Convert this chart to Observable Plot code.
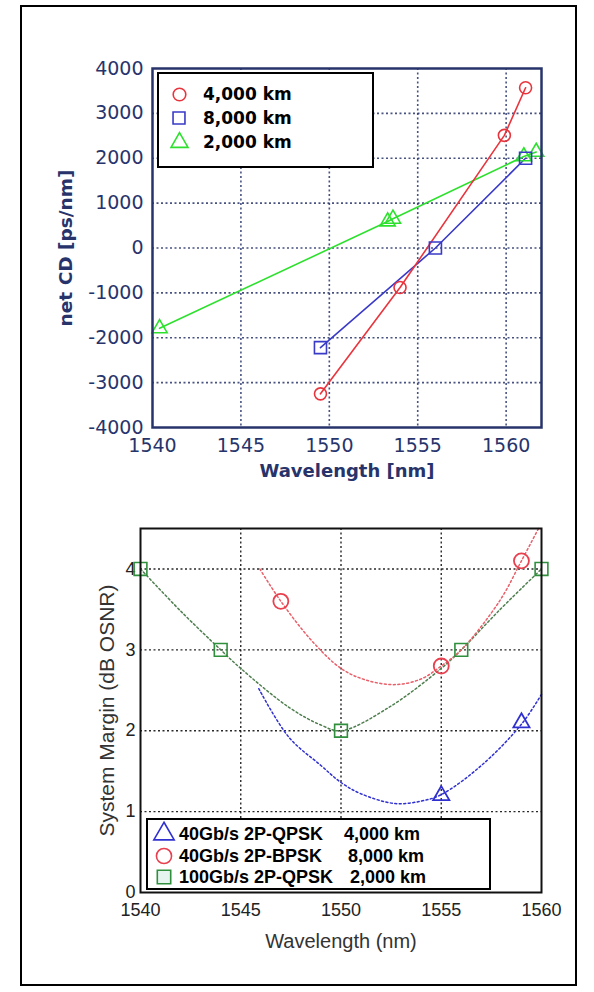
<!DOCTYPE html>
<html><head><meta charset="utf-8">
<script src="https://cdn.jsdelivr.net/npm/d3@7"></script>
<script src="https://cdn.jsdelivr.net/npm/@observablehq/plot@0.6"></script>
<style>
html,body{margin:0;padding:0;background:#fff;}
#wrap{position:relative;width:594px;height:992px;overflow:hidden;background:#fff;}
#border{position:absolute;left:20px;top:5px;width:557px;height:981px;border:2px solid #000;box-sizing:border-box;}
#topChart{position:absolute;left:0;top:0;}
#bottomChart{position:absolute;left:0;top:490px;}
.legend{position:absolute;background:#fff;border:2px solid #000;box-sizing:border-box;}
.legend .row{position:absolute;left:0;right:0;height:22px;}
.legend svg{position:absolute;overflow:visible;}
.legend span{position:absolute;white-space:pre;color:#000;font-weight:bold;line-height:22px;top:0;}
#legTop span{font-family:"DejaVu Sans";font-size:17px;}
#legBot span{font-family:"Liberation Sans",Arial;font-size:18px;}
</style></head><body>
<div id="wrap">
  <div id="border"></div>
  <div id="topChart"></div>
  <div id="bottomChart"></div>
  <div id="legTop" class="legend" style="left:157px;top:72px;width:217px;height:96px;"></div>
  <div id="legBot" class="legend" style="left:146px;top:818px;width:345px;height:72px;"></div>
</div>
<script>
// ---------- Top chart: net CD vs wavelength ----------
const cdSeriesNames = ["4,000 km", "8,000 km", "2,000 km"];
const cdWl4000 = [1549.5, 1554.0, 1559.9, 1561.1];
const cdVal4000 = [-3250, -880, 2510, 3570];
const cdWl8000 = [1549.5, 1556.0, 1561.1];
const cdVal8000 = [-2220, 0, 2000];
const cdWl2000 = [1540.4, 1553.3, 1553.6, 1561.0, 1561.7];
const cdVal2000 = [-1790, 590, 650, 2040, 2140];
const topTicksX = [1540, 1545, 1550, 1555, 1560];
const topTicksY = [-4000, -3000, -2000, -1000, 0, 1000, 2000, 3000, 4000];

// ---------- Bottom chart: system margin vs wavelength ----------
const smSeriesNames = ["40Gb/s 2P-QPSK", "40Gb/s 2P-BPSK", "100Gb/s 2P-QPSK"];
const smSeriesReach = ["4,000 km", "8,000 km", "2,000 km"];
const smWlQpsk40 = [1555, 1559];
const smValQpsk40 = [1.2, 2.1];
const smWlBpsk40 = [1547, 1555, 1559];
const smValBpsk40 = [3.6, 2.8, 4.1];
const smWlQpsk100 = [1540, 1544, 1550, 1556, 1560];
const smValQpsk100 = [4.0, 3.0, 2.0, 3.0, 4.0];
// fitted (dotted) curves
const fitWlQpsk40 = [1545.9, 1547.4, 1549, 1550, 1551, 1552.7, 1554, 1555, 1557, 1559, 1560];
const fitValQpsk40 = [2.52, 1.92, 1.57, 1.36, 1.22, 1.10, 1.13, 1.21, 1.57, 2.08, 2.45];
const fitWlBpsk40 = [1545.95, 1547, 1548.55, 1550, 1551.2, 1552.7, 1554, 1555, 1556, 1557.9, 1559, 1559.85];
const fitValBpsk40 = [4.0, 3.6, 3.11, 2.77, 2.63, 2.57, 2.64, 2.8, 3.0, 3.6, 4.1, 4.5];
const fitWlQpsk100 = [1540, 1542, 1544, 1545, 1547.4, 1549, 1550, 1552.4, 1555, 1556, 1557.9, 1560];
const fitValQpsk100 = [4.0, 3.48, 3.0, 2.77, 2.29, 2.07, 2.0, 2.29, 2.77, 3.0, 3.49, 4.0];
const botTicksX = [1540, 1545, 1550, 1555, 1560];
const botTicksY = [0, 1, 2, 3, 4];

const zip = (xs, ys) => xs.map((x, i) => ({x, y: ys[i]}));

const navy = "#27346b";
const cRed = "#e8353d", cBlue = "#3a3ac8", cGreen = "#2ee02e";

const topPlot = Plot.plot({
  width: 594, height: 490,
  marginLeft: 152, marginRight: 53, marginTop: 68, marginBottom: 63,
  x: {domain: [1540, 1562]},
  y: {domain: [-4000, 4000]},
  style: {fontFamily: "DejaVu Sans", background: "transparent", overflow: "visible"},
  marks: [
    Plot.gridX(topTicksX.slice(1), {stroke: navy, strokeOpacity: 0.85, strokeWidth: 1.6, strokeDasharray: "2,2.5"}),
    Plot.gridY(topTicksY.slice(1, -1), {stroke: navy, strokeOpacity: 0.85, strokeWidth: 1.6, strokeDasharray: "2,2.5"}),
    Plot.axisX(topTicksX, {tickSize: 0, tickPadding: 11, fontSize: 19, fill: navy, label: null, tickFormat: d => String(d)}),
    Plot.axisY(topTicksY, {tickSize: 0, tickPadding: 9, fontSize: 19, fill: navy, label: null, tickFormat: d => String(d)}),
    Plot.line(zip(cdWl2000, cdVal2000), {x: "x", y: "y", stroke: cGreen, strokeWidth: 1.6}),
    Plot.line(zip(cdWl8000, cdVal8000), {x: "x", y: "y", stroke: cBlue, strokeWidth: 1.6}),
    Plot.line(zip(cdWl4000, cdVal4000), {x: "x", y: "y", stroke: cRed, strokeWidth: 1.6}),
    Plot.dot(zip(cdWl2000, cdVal2000), {x: "x", y: "y", symbol: "triangle", r: 5.6, stroke: cGreen, strokeWidth: 1.6, fill: "none"}),
    Plot.dot(zip(cdWl8000, cdVal8000), {x: "x", y: "y", symbol: "square", r: 6.8, stroke: cBlue, strokeWidth: 1.6, fill: "none"}),
    Plot.dot(zip(cdWl4000, cdVal4000), {x: "x", y: "y", symbol: "circle", r: 6, stroke: cRed, strokeWidth: 1.6, fill: "none"}),
    Plot.frame({stroke: navy, strokeWidth: 2.5}),
    Plot.text(["net CD [ps/nm]"], {text: d => d, frameAnchor: "left", dx: -86, rotate: -90, textAnchor: "middle", lineAnchor: "middle", fontSize: 18.5, fontWeight: "bold", fill: navy}),
    Plot.text(["Wavelength [nm]"], {text: d => d, frameAnchor: "bottom", dy: 44, textAnchor: "middle", lineAnchor: "middle", fontSize: 18, fontWeight: "bold", fill: navy})
  ]
});
document.getElementById("topChart").appendChild(topPlot);

const bRedDot = "#e8404f", bRedLine = "#e8606a";
const bGreenDot = "#2f8f3c", bGreenLine = "#4f7f4f";
const bBlue = "#3030d0";

const botPlot = Plot.plot({
  width: 594, height: 502,
  marginLeft: 140, marginRight: 53, marginTop: 38, marginBottom: 100,
  x: {domain: [1540, 1560]},
  y: {domain: [0, 4.5]},
  style: {fontFamily: "Liberation Sans, Arial", background: "transparent", overflow: "visible"},
  marks: [
    Plot.gridX(botTicksX.slice(1, -1), {stroke: "#111", strokeOpacity: 0.9, strokeWidth: 1.4, strokeDasharray: "2,2.5"}),
    Plot.gridY(botTicksY.slice(1), {stroke: "#111", strokeOpacity: 0.9, strokeWidth: 1.4, strokeDasharray: "2,2.5"}),
    Plot.axisX(botTicksX, {tickSize: 0, tickPadding: 11, fontSize: 18, fill: "#222", label: null, tickFormat: d => String(d)}),
    Plot.axisY(botTicksY, {tickSize: 0, tickPadding: 5, fontSize: 18, fill: "#222", label: null, tickFormat: d => String(d)}),
    Plot.line(zip(fitWlQpsk100, fitValQpsk100), {x: "x", y: "y", curve: "catmull-rom", stroke: bGreenLine, strokeWidth: 1.5, strokeDasharray: "2,2.5"}),
    Plot.line(zip(fitWlQpsk40, fitValQpsk40), {x: "x", y: "y", curve: "catmull-rom", stroke: bBlue, strokeWidth: 1.5, strokeDasharray: "2,2.5"}),
    Plot.line(zip(fitWlBpsk40, fitValBpsk40), {x: "x", y: "y", curve: "catmull-rom", stroke: bRedLine, strokeWidth: 1.5, strokeDasharray: "2,2.5"}),
    Plot.dot(zip(smWlQpsk100, smValQpsk100), {x: "x", y: "y", symbol: "square", r: 7.2, stroke: bGreenDot, strokeWidth: 1.6, fill: "none"}),
    Plot.dot(zip(smWlQpsk40, smValQpsk40), {x: "x", y: "y", symbol: "triangle", r: 6, stroke: bBlue, strokeWidth: 1.8, fill: "none"}),
    Plot.dot(zip(smWlBpsk40, smValBpsk40), {x: "x", y: "y", symbol: "circle", r: 7.5, stroke: bRedDot, strokeWidth: 1.8, fill: "none"}),
    Plot.frame({stroke: "#111", strokeWidth: 2}),
    Plot.text(["System Margin (dB OSNR)"], {text: d => d, frameAnchor: "left", dx: -33, rotate: -90, textAnchor: "middle", lineAnchor: "middle", fontSize: 21, fill: "#333"}),
    Plot.text(["Wavelength (nm)"], {text: d => d, frameAnchor: "bottom", dy: 49, textAnchor: "middle", lineAnchor: "middle", fontSize: 20, fill: "#333"})
  ]
});
document.getElementById("bottomChart").appendChild(botPlot);

// ---------- Legends (HTML boxes over the plots) ----------
function symbolSvg(kind, color, size, fill) {
  const ns = "http://www.w3.org/2000/svg";
  const svg = document.createElementNS(ns, "svg");
  svg.setAttribute("width", size); svg.setAttribute("height", size);
  svg.setAttribute("viewBox", `${-size/2} ${-size/2} ${size} ${size}`);
  const p = document.createElementNS(ns, "path");
  const d3sym = kind === "circle" ? d3.symbolCircle : kind === "square" ? d3.symbolSquare : d3.symbolTriangle;
  const s = size * 0.42;
  p.setAttribute("d", d3.symbol(d3sym, s * s * Math.PI)());
  p.setAttribute("fill", fill || "none");
  p.setAttribute("stroke", color);
  p.setAttribute("stroke-width", 1.6);
  svg.appendChild(p);
  return svg;
}
function addRow(box, top, kind, color, symSize, symLeft, texts, fill) {
  const row = document.createElement("div");
  row.className = "row"; row.style.top = (top - 11) + "px";
  const s = symbolSvg(kind, color, symSize, fill);
  s.style.left = (symLeft - symSize / 2) + "px"; s.style.top = (11 - symSize / 2) + "px";
  row.appendChild(s);
  texts.forEach(([t, left]) => {
    const sp = document.createElement("span");
    sp.textContent = t; sp.style.left = left + "px";
    row.appendChild(sp);
  });
  box.appendChild(row);
}
const legTop = document.getElementById("legTop");
addRow(legTop, 20, "circle", cRed, 15, 20, [[cdSeriesNames[0], 44]]);
addRow(legTop, 44, "square", cBlue, 16, 20, [[cdSeriesNames[1], 44]]);
addRow(legTop, 68, "triangle", cGreen, 15, 20, [[cdSeriesNames[2], 44]]);

const legBot = document.getElementById("legBot");
addRow(legBot, 14, "triangle", bBlue, 18, 16, [[smSeriesNames[0], 31], [smSeriesReach[0], 196]]);
addRow(legBot, 36, "circle", bRedDot, 18, 16, [[smSeriesNames[1], 31], [smSeriesReach[1], 200]]);
addRow(legBot, 57, "square", bGreenDot, 18, 16, [[smSeriesNames[2], 31], [smSeriesReach[2], 202]], "#e6f4f0");
</script>
</body></html>
